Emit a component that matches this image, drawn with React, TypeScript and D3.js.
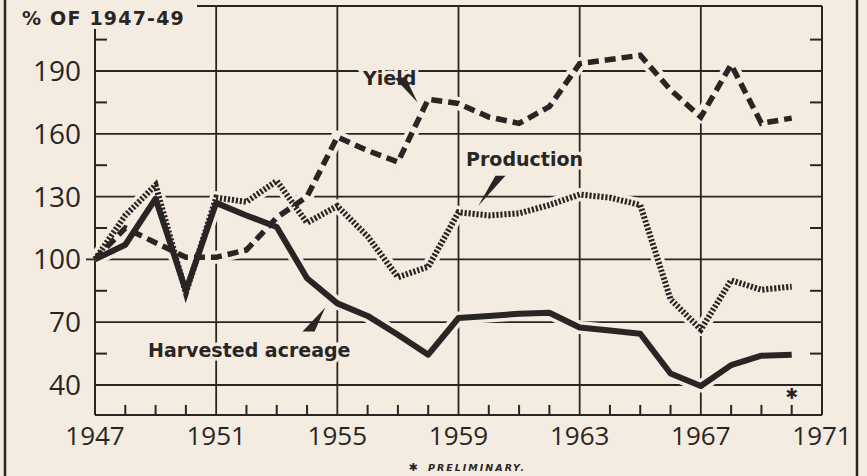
import React from "react";
import * as d3 from "d3";

const years = [1947, 1948, 1949, 1950, 1951, 1952, 1953, 1954, 1955, 1956, 1957, 1958, 1959, 1960, 1961, 1962, 1963, 1964, 1965, 1966, 1967, 1968, 1969, 1970];
const acreage = [100, 107, 129, 85, 127, 121, 115.5, 91, 79, 73, 64, 54.5, 72, 73, 74, 74.5, 67.5, 66, 64.5, 45.5, 39.5, 49.5, 54, 54.5];
const yieldVals = [100, 115, 108, 101, 101, 104.5, 120, 130, 158.5, 152, 146.5, 176.5, 174.5, 168, 165, 173, 193.5, 195.5, 197.5, 181, 168, 193, 165, 167.5];
const production = [100, 121, 135.5, 84, 129.5, 127.5, 137.5, 117.5, 125.5, 111, 91.5, 96.5, 122.5, 121, 122, 126, 131, 129.5, 126, 81, 66.5, 90, 85.5, 87];

const yTicks = [40, 70, 100, 130, 160, 190];
const yMinor = [55, 85, 115, 145, 175, 205];
const xMajor = [1947, 1951, 1955, 1959, 1963, 1967, 1971];
const xGrid = [1951, 1955, 1959, 1963, 1967];

const BG = "#f4ece1";
const INK = "#2a2525";

export default function App() {
  const x = d3.scaleLinear().domain([1947, 1971]).range([95, 822]);
  const y = d3.scaleLinear().domain([40, 190]).range([385, 71]);
  const top = y(221);
  const bottom = y(25.7);
  const left = x(1947);
  const right = x(1971);

  const line = d3
    .line<number>()
    .x((_, i) => x(years[i]))
    .y((d) => y(d));

  const minorYears = years.filter((yr) => !xMajor.includes(yr));

  const halo = (d: string, k: string) => (
    <path key={k} d={d} fill="none" stroke={BG} strokeWidth={13} strokeLinejoin="round" />
  );

  const pA = line(acreage) as string;
  const pY = line(yieldVals) as string;
  const pP = line(production) as string;

  const wedge = (pts: [number, number][]) =>
    pts.map(([a, b]) => `${x(a)},${y(b)}`).join(" ");

  const labelStyle: React.CSSProperties = {
    fontFamily: "'DejaVu Sans', sans-serif",
    fontWeight: 700,
    fontSize: 19,
  };

  return (
    <svg
      width={867}
      height={476}
      style={{ position: "absolute", left: 0, top: 0, background: BG }}
    >
      <rect x={0} y={0} width={867} height={476} fill={BG} />
      {/* page frame */}
      <line x1={5} x2={5} y1={0} y2={476} stroke={INK} strokeWidth={2.5} />
      <line x1={857} x2={857} y1={0} y2={476} stroke={INK} strokeWidth={2.5} />

      {/* horizontal grid */}
      {yTicks.map((t) => (
        <line key={"h" + t} x1={t === 100 ? left - 9 : left} x2={right} y1={y(t)} y2={y(t)} stroke={INK} strokeWidth={1.8} />
      ))}
      {/* vertical grid */}
      {xGrid.map((t) => (
        <line key={"v" + t} x1={x(t)} x2={x(t)} y1={top} y2={bottom} stroke={INK} strokeWidth={1.8} />
      ))}
      {/* frame of plot */}
      <line x1={197} x2={right} y1={top} y2={top} stroke={INK} strokeWidth={2} />
      <line x1={left} x2={left} y1={29} y2={bottom} stroke={INK} strokeWidth={2} />
      <line x1={right} x2={right} y1={top} y2={bottom} stroke={INK} strokeWidth={2} />
      <line x1={left} x2={right} y1={bottom} y2={bottom} stroke={INK} strokeWidth={2} />
      {/* minor ticks */}
      {yMinor.map((t) => (
        <g key={"m" + t}>
          <line x1={left} x2={left + 12} y1={y(t)} y2={y(t)} stroke={INK} strokeWidth={2} />
          <line x1={right - 12} x2={right} y1={y(t)} y2={y(t)} stroke={INK} strokeWidth={2} />
        </g>
      ))}
      {minorYears.map((t) => (
        <line key={"xm" + t} x1={x(t)} x2={x(t)} y1={bottom - 10} y2={bottom} stroke={INK} strokeWidth={2} />
      ))}

      {/* halos */}
      {halo(pA, "ha")}
      {halo(pY, "hy")}
      {halo(pP, "hp")}

      {/* series */}
      <path d={pP} fill="none" stroke={INK} strokeWidth={6} strokeDasharray="2.2 1.8" />
      <path d={pY} fill="none" stroke={INK} strokeWidth={5.5} strokeDasharray="11 6" />
      <path d={pA} fill="none" stroke={INK} strokeWidth={6} strokeLinejoin="round" />

      {/* y labels */}
      {yTicks.map((t) => (
        <text
          key={"yl" + t}
          x={81}
          y={y(t)}
          dy="0.36em"
          textAnchor="end"
          fill={INK}
          style={{ fontFamily: "'Open Sans', sans-serif", fontSize: 28 }}
        >
          {t}
        </text>
      ))}
      {/* x labels */}
      {xMajor.map((t) => (
        <text
          key={"xl" + t}
          x={x(t)}
          y={445}
          textAnchor="middle"
          fill={INK}
          style={{ fontFamily: "'Open Sans', sans-serif", fontSize: 26 }}
        >
          {t}
        </text>
      ))}

      {/* title */}
      <text x={22} y={25} fill={INK} style={{ ...labelStyle, fontSize: 19, letterSpacing: 1.2 }}>
        % OF 1947-49
      </text>

      {/* series labels */}
      <text x={x(1955.85)} y={y(183.5)} fill={INK} stroke={BG} strokeWidth={7} paintOrder="stroke" style={labelStyle}>
        Yield
      </text>
      <polygon points={wedge([[1956.9, 186.5], [1957.25, 187], [1957.65, 175]])} fill={INK} />

      <text x={x(1959.25)} y={y(144.6)} fill={INK} stroke={BG} strokeWidth={7} paintOrder="stroke" style={labelStyle}>
        Production
      </text>
      <polygon points={wedge([[1960.22, 140], [1960.55, 140], [1959.65, 125.5]])} fill={INK} />

      <text x={x(1948.75)} y={y(53.4)} fill={INK} stroke={BG} strokeWidth={7} paintOrder="stroke" style={labelStyle}>
        Harvested acreage
      </text>
      <polygon points={wedge([[1953.85, 65.5], [1954.25, 65.5], [1954.6, 77]])} fill={INK} />

      {/* preliminary marker */}
      <text x={x(1970)} y={394} textAnchor="middle" dominantBaseline="central" fill={INK} style={{ fontFamily: "'DejaVu Sans', sans-serif", fontWeight: 700, fontSize: 15 }}>
        ✱
      </text>
      <text x={413} y={467} textAnchor="middle" dominantBaseline="central" fill={INK} style={{ fontFamily: "'DejaVu Sans', sans-serif", fontWeight: 700, fontSize: 11 }}>
        ✱
      </text>
      <text x={428} y={471} fill={INK} style={{ fontFamily: "'DejaVu Sans', sans-serif", fontWeight: 700, fontStyle: "italic", fontSize: 9.5, letterSpacing: 2 }}>
        PRELIMINARY.
      </text>
    </svg>
  );
}
